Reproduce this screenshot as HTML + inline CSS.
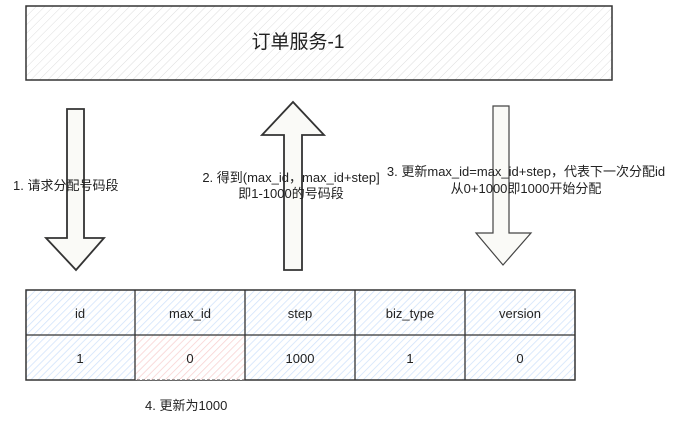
<!DOCTYPE html>
<html><head><meta charset="utf-8"><style>
body{margin:0;background:#fff;width:675px;height:421px;overflow:hidden}
svg{display:block}
text{font-family:"Liberation Sans","Noto Sans CJK SC",sans-serif;font-size:13px;fill:#222}
</style></head><body>
<svg width="675" height="421" viewBox="0 0 675 421">
<defs>
<pattern id="h" width="6" height="6" patternUnits="userSpaceOnUse" patternTransform="rotate(45)">
<line x1="0" y1="0" x2="0" y2="6" stroke="#ddd" stroke-width="1"/></pattern>
<pattern id="hb" width="5" height="5" patternUnits="userSpaceOnUse" patternTransform="rotate(45)">
<rect width="5" height="5" fill="#fff"/><line x1="0" y1="0" x2="0" y2="5" stroke="#cfe2fb" stroke-width="1.5"/></pattern>
<pattern id="hr" width="5" height="5" patternUnits="userSpaceOnUse" patternTransform="rotate(45)">
<rect width="5" height="5" fill="#fff"/><line x1="0" y1="0" x2="0" y2="5" stroke="#f8d0d0" stroke-width="1.5"/></pattern>
</defs>
<rect x="26" y="6" width="586" height="74" fill="url(#h)" stroke="#333" stroke-width="1.5"/>
<text x="298" y="48" text-anchor="middle" style="font-size:19px">订单服务-1</text>
<!-- arrow 1 down -->
<path d="M67,109 L84,109 L84,238 L104,238 L76,270 L46,238 L67,238 Z" fill="#fafaf7" stroke="#333" stroke-width="1.8"/>
<!-- arrow 2 up -->
<path d="M284,270 L302,270 L302,135 L324,135 L293,102 L262,135 L284,135 Z" fill="#fafaf7" stroke="#333" stroke-width="1.8"/>
<!-- arrow 3 down -->
<path d="M493,106 L509,106 L509,233 L531,233 L503,265 L476,233 L493,233 Z" fill="#fafaf7" stroke="#444" stroke-width="1.2"/>
<text x="13" y="190">1. 请求分配号码段</text>
<text x="291" y="182" text-anchor="middle">2. 得到(max_id，max_id+step]</text>
<text x="291" y="198" text-anchor="middle">即1-1000的号码段</text>
<text x="526" y="176" text-anchor="middle">3. 更新max_id=max_id+step，代表下一次分配id</text>
<text x="526" y="193" text-anchor="middle">从0+1000即1000开始分配</text>
<!-- table -->
<rect x="26" y="290" width="549" height="90" fill="url(#hb)" stroke="#333" stroke-width="1.5"/>
<rect x="135" y="335" width="110" height="45" fill="url(#hr)" stroke="#444" stroke-width="1" stroke-dasharray="3,2"/>
<g stroke="#333" stroke-width="1.3">
<line x1="26" y1="335" x2="575" y2="335"/>
<line x1="135" y1="290" x2="135" y2="380"/>
<line x1="245" y1="290" x2="245" y2="380"/>
<line x1="355" y1="290" x2="355" y2="380"/>
<line x1="465" y1="290" x2="465" y2="380"/>
</g>
<g text-anchor="middle">
<text x="80" y="318">id</text><text x="190" y="318">max_id</text><text x="300" y="318">step</text><text x="410" y="318">biz_type</text><text x="520" y="318">version</text>
<text x="80" y="363">1</text><text x="190" y="363">0</text><text x="300" y="363">1000</text><text x="410" y="363">1</text><text x="520" y="363">0</text>
</g>
<text x="145" y="410">4. 更新为1000</text>
</svg>
</body></html>
